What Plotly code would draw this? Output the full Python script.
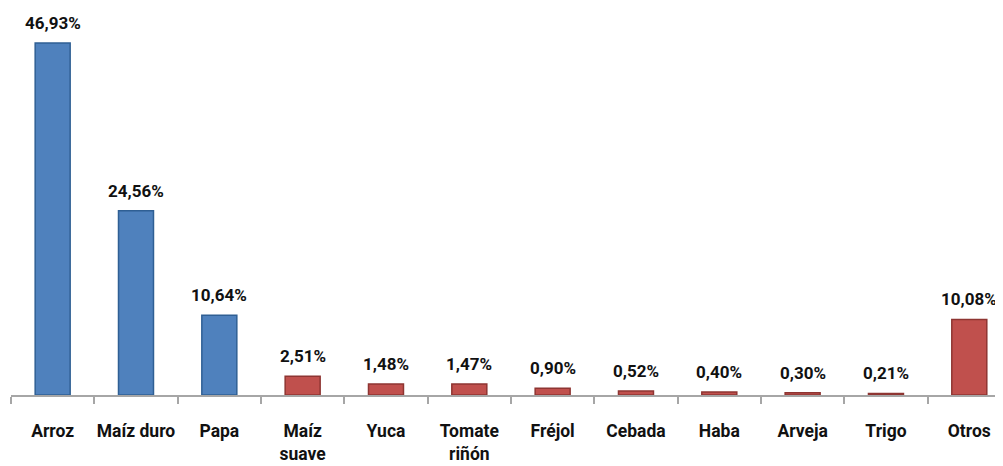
import plotly.graph_objects as go

categories = ["Arroz", "Maíz duro", "Papa", "Maíz<br>suave", "Yuca", "Tomate<br>riñón",
              "Fréjol", "Cebada", "Haba", "Arveja", "Trigo", "Otros"]
values = [46.93, 24.56, 10.64, 2.51, 1.48, 1.47, 0.90, 0.52, 0.40, 0.30, 0.21, 10.08]
groups = ["main", "main", "main", "other", "other", "other", "other", "other", "other", "other", "other", "other"]

fill = {"main": "#4F81BD", "other": "#C0504D"}
edge = {"main": "#2F5F94", "other": "#8E3532"}

labels = [f"{v:.2f}".replace(".", ",") + "%" for v in values]
xs = list(range(len(categories)))

FONT = "Roboto, Arial, sans-serif"

fig = go.Figure()
fig.add_trace(go.Bar(
    x=xs, y=values, width=0.42,
    marker=dict(color=[fill[g] for g in groups],
                line=dict(color=[edge[g] for g in groups], width=1.5)),
    hoverinfo="skip",
))

for x, v, t in zip(xs, values, labels):
    fig.add_annotation(x=x, y=v, text=t, showarrow=False, yanchor="bottom",
                       yshift=8, font=dict(family=FONT, size=17, color="#111111", weight="bold"))

fig.update_layout(
    width=995, height=458,
    margin=dict(l=3, r=0, t=0, b=71),
    paper_bgcolor="white", plot_bgcolor="white",
    showlegend=False,
)
fig.update_xaxes(
    range=[-0.5, -0.5 + 992 / 83.33],
    tickmode="array", tickvals=xs, ticktext=categories,
    showgrid=False, zeroline=False,
    showline=True, linecolor="#A6A6A6", linewidth=2,
    ticks="",
    tickfont=dict(family=FONT, size=17.5, color="#111111", weight="bold"),
    ticklabelstandoff=19,
    minor=dict(tickmode="array", tickvals=[i - 0.5 for i in range(13)],
               ticks="outside", ticklen=7, tickcolor="#A6A6A6", tickwidth=2, showgrid=False),
)
fig.update_yaxes(range=[0, 387 / 7.5], visible=False, showgrid=False, zeroline=False)

fig.write_html("out.html")
